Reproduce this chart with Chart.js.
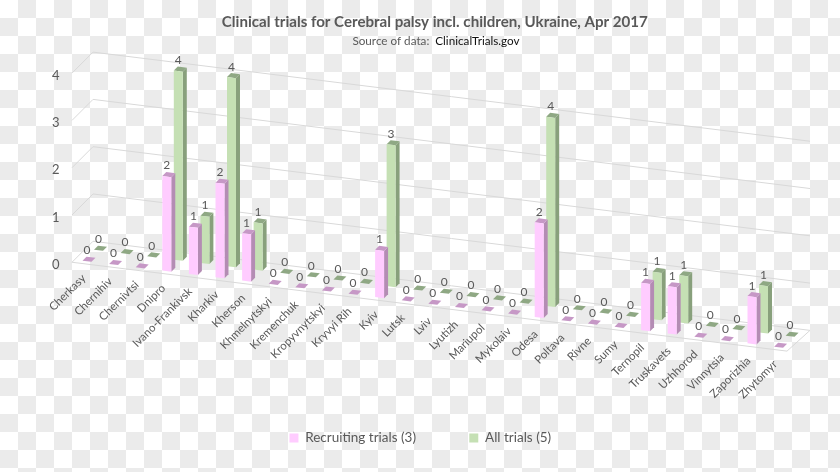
<!DOCTYPE html>
<html>
<head>
<meta charset="utf-8">
<style>
  html, body { margin: 0; padding: 0; background: #fff; }
  canvas { display: block; }
</style>
<script src="https://cdn.jsdelivr.net/npm/chart.js@4/dist/chart.umd.min.js"></script>
</head>
<body>
<canvas id="chart" width="840" height="472"></canvas>
<script>
const categories = ["Cherkasy", "Chernihiv", "Chernivtsi", "Dnipro", "Ivano-Frankivsk", "Kharkiv", "Kherson",
  "Khmelnytskyi", "Kremenchuk", "Kropyvnytskyi", "Kryvyi Rih", "Kyiv", "Lutsk", "Lviv", "Lyutizh", "Mariupol",
  "Mykolaiv", "Odesa", "Poltava", "Rivne", "Sumy", "Ternopil", "Truskavets", "Uzhhorod", "Vinnytsia", "Zaporizhia", "Zhytomyr"];
const recruitingTrials = [0, 0, 0, 2, 1, 2, 1, 0, 0, 0, 0, 1, 0, 0, 0, 0, 0, 2, 0, 0, 0, 1, 1, 0, 0, 1, 0];
const allTrials =        [0, 0, 0, 4, 1, 4, 1, 0, 0, 0, 0, 3, 0, 0, 0, 0, 0, 4, 0, 0, 0, 1, 1, 0, 0, 1, 0];

const FONT = "Lato, sans-serif";
const TEXT = "#595959";
const GRID = "#d9d9d9";

// the 3D look: everything is sheared down to the right
const SLOPE = 0.1243;
const PIVOT_X = 87;
const SERIES_DY = [-3.5, -15.9];
const SIDE_COLORS = ["#b48cb4", "#88a07c"];
const CAP_COLORS = ["#c698c6", "#8fa884"];
const BAR_DEPTH = 4;
const WALL_DEPTH = 21;
const CHECK = 18;

function sheared(x, y, dy) {
  return y + SLOPE * (x - PIVOT_X) + dy;
}

// category axis whose labels follow the slanted floor
class SlantedCategoryScale extends Chart.CategoryScale {
  _computeLabelArea() {
    return undefined; // labels run past the axis box
  }
  _computeLabelItems(area) {
    const items = super._computeLabelItems(area);
    items.forEach((item, i) => {
      const t = item.options.translation;
      const x = this.getPixelForTick(i);
      t[0] += -9;
      t[1] = this.top + SLOPE * (x - PIVOT_X) + 6;
    });
    return items;
  }
}
SlantedCategoryScale.id = "slanted";
SlantedCategoryScale.defaults = Chart.CategoryScale.defaults;
Chart.register(SlantedCategoryScale);

const wallsPlugin = {
  id: "walls",
  beforeDraw(chart) {
    // transparency checkerboard behind the whole picture
    const { ctx, width, height } = chart;
    ctx.save();
    ctx.fillStyle = "#ebebeb";
    for (let r = 0; r * CHECK < height; r++) {
      for (let c = 0; c * CHECK < width; c++) {
        if ((r + c) % 2) ctx.fillRect(c * CHECK, r * CHECK, CHECK, CHECK);
      }
    }
    ctx.restore();
  },
  beforeDatasetsDraw(chart) {
    const { ctx, scales: { y } } = chart;
    const x0 = 72, x1 = x0 + WALL_DEPTH, x2 = 810, front = 787;
    ctx.save();
    ctx.strokeStyle = GRID;
    ctx.lineWidth = 1;
    y.ticks.forEach(t => {
      const py = y.getPixelForValue(t.value) - 2.5;
      ctx.beginPath();
      ctx.moveTo(x0, py);
      ctx.lineTo(x1, py - WALL_DEPTH);
      ctx.lineTo(x2, py - WALL_DEPTH + SLOPE * (x2 - x1));
      ctx.stroke();
    });
    const py0 = y.getPixelForValue(0) - 2.5;
    ctx.beginPath();
    ctx.moveTo(x0, py0);
    ctx.lineTo(front, py0 + SLOPE * (front - x0));
    ctx.lineTo(x2, py0 - WALL_DEPTH + SLOPE * (x2 - x1));
    ctx.stroke();
    ctx.restore();
  }
};

const bars3dPlugin = {
  id: "bars3d",
  afterLayout(chart) {
    // title and legend are not centred on the plot in the original
    const t = chart.titleBlock;
    t.left += 21;
    t.right += 21;
    const l = chart.legend;
    const h = l.bottom - l.top;
    l.left += 6.5;
    l.right += 6.5;
    l.top = 378;
    l.bottom = 378 + h;
  },
  beforeDatasetDraw(chart, args) {
    const { ctx } = chart;
    const i = args.index;
    ctx.save();
    ctx.transform(1, SLOPE, 0, 1, 0, SERIES_DY[i] - SLOPE * PIVOT_X);
    args.meta.data.forEach(bar => {
      const left = bar.x - bar.width / 2, right = bar.x + bar.width / 2;
      const dx = BAR_DEPTH, dy = -BAR_DEPTH - SLOPE * BAR_DEPTH;
      ctx.fillStyle = SIDE_COLORS[i];
      ctx.beginPath();
      ctx.moveTo(right, bar.y);
      ctx.lineTo(right + dx, bar.y + dy);
      ctx.lineTo(right + dx, bar.base + dy);
      ctx.lineTo(right, bar.base);
      ctx.closePath();
      ctx.fill();
      ctx.fillStyle = CAP_COLORS[i];
      ctx.beginPath();
      ctx.moveTo(left, bar.y);
      ctx.lineTo(right, bar.y);
      ctx.lineTo(right + dx, bar.y + dy);
      ctx.lineTo(left + dx, bar.y + dy);
      ctx.closePath();
      ctx.fill();
    });
  },
  afterDatasetDraw(chart) {
    chart.ctx.restore();
  },
  afterDatasetsDraw(chart) {
    const { ctx } = chart;
    ctx.save();
    ctx.font = "12px " + FONT;
    ctx.fillStyle = TEXT;
    ctx.textAlign = "center";
    ctx.textBaseline = "middle";
    chart.data.datasets.forEach((ds, i) => {
      chart.getDatasetMeta(i).data.forEach((bar, j) => {
        const py = sheared(bar.x, bar.y, SERIES_DY[i]);
        ctx.fillText(ds.data[j], bar.x, py - BAR_DEPTH - 7);
      });
    });
    ctx.restore();
  },
  afterDraw(chart) {
    // second subtitle part is darker, so both parts are placed by hand
    const { ctx } = chart;
    ctx.save();
    ctx.font = "11.7px " + FONT;
    ctx.textBaseline = "middle";
    ctx.textAlign = "left";
    const a = "Source of data:  ", b = "ClinicalTrials.gov";
    const w = ctx.measureText(a + b).width;
    const x = 436 - w / 2;
    ctx.fillStyle = TEXT;
    ctx.fillText(a, x, 41);
    ctx.fillStyle = "#111";
    ctx.fillText(b, x + ctx.measureText(a).width, 41);
    ctx.restore();
  }
};

new Chart(document.getElementById("chart"), {
  type: "bar",
  data: {
    labels: categories,
    datasets: [
      { label: "Recruiting trials (3)", data: recruitingTrials, backgroundColor: "#ffccff", clip: false },
      { label: "All trials (5)", data: allTrials, backgroundColor: "#c5e0b4", clip: false }
    ]
  },
  options: {
    responsive: false,
    animation: false,
    events: [],
    categoryPercentage: 0.865,
    barPercentage: 0.78,
    layout: { padding: { left: 30, right: 42.35, bottom: 0 } },
    scales: {
      x: {
        type: "slanted",
        grid: { display: false, drawTicks: false },
        border: { display: false },
        ticks: {
          autoSkip: false, minRotation: 45, maxRotation: 45,
          color: TEXT, font: { family: FONT, size: 11.4 }
        },
        afterFit: s => { s.height = 130.5; }
      },
      y: {
        min: 0, max: 4,
        grid: { display: false, drawTicks: false },
        border: { display: false },
        ticks: { stepSize: 1, padding: 20, color: TEXT, font: { family: FONT, size: 13 } },
        afterFit: s => { s.width = 49.45; }
      }
    },
    plugins: {
      title: {
        display: true,
        text: "Clinical trials for Cerebral palsy incl. children, Ukraine, Apr 2017",
        color: TEXT,
        font: { family: FONT, size: 15.1, weight: "bold" },
        padding: { top: 13, bottom: 44.5 }
      },
      legend: {
        position: "bottom",
        labels: {
          boxWidth: 9, boxHeight: 9, padding: 53.25,
          color: TEXT, font: { family: FONT, size: 13.5 }
        }
      },
      tooltip: { enabled: false }
    }
  },
  plugins: [wallsPlugin, bars3dPlugin]
});
</script>
</body>
</html>
